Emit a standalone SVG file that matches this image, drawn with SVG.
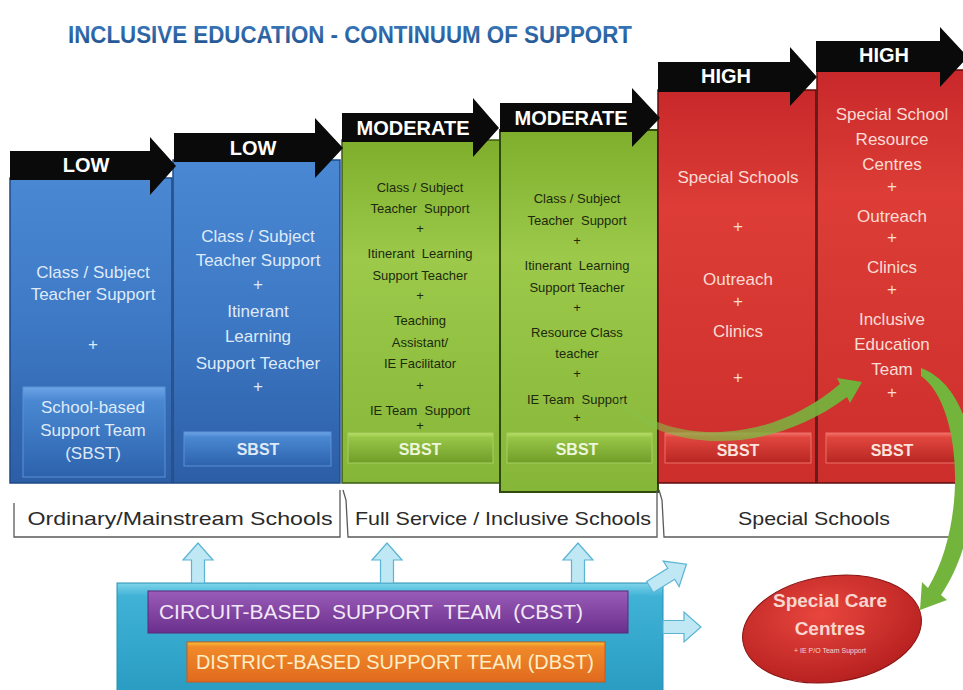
<svg xmlns="http://www.w3.org/2000/svg" width="963" height="690" viewBox="0 0 963 690">
<defs>
  <linearGradient id="gBlue" x1="0" y1="0" x2="0" y2="1">
    <stop offset="0" stop-color="#4a88d4"/><stop offset="0.5" stop-color="#3d78c4"/><stop offset="1" stop-color="#2c5ea6"/>
  </linearGradient>
  <linearGradient id="gGreen" x1="0" y1="0" x2="0" y2="1">
    <stop offset="0" stop-color="#7fae2c"/><stop offset="0.35" stop-color="#9cc94a"/><stop offset="1" stop-color="#86b638"/>
  </linearGradient>
  <linearGradient id="gRed" x1="0" y1="0" x2="0" y2="1">
    <stop offset="0" stop-color="#c8282a"/><stop offset="0.3" stop-color="#dd3d36"/><stop offset="1" stop-color="#cc2e2c"/>
  </linearGradient>
  <linearGradient id="bBlue" x1="0" y1="0" x2="0" y2="1">
    <stop offset="0" stop-color="#6ea4e6"/><stop offset="0.15" stop-color="#4a88d2"/><stop offset="1" stop-color="#2d62ac"/>
  </linearGradient>
  <linearGradient id="bGreen" x1="0" y1="0" x2="0" y2="1">
    <stop offset="0" stop-color="#b9e06a"/><stop offset="0.15" stop-color="#98c648"/><stop offset="1" stop-color="#6f9d28"/>
  </linearGradient>
  <linearGradient id="bRed" x1="0" y1="0" x2="0" y2="1">
    <stop offset="0" stop-color="#f07068"/><stop offset="0.15" stop-color="#e0463e"/><stop offset="1" stop-color="#b82622"/>
  </linearGradient>
  <linearGradient id="gTeal" x1="0" y1="0" x2="0" y2="1">
    <stop offset="0" stop-color="#7fd4ea"/><stop offset="0.12" stop-color="#3fb2d6"/><stop offset="1" stop-color="#2a9cc2"/>
  </linearGradient>
  <linearGradient id="gPurple" x1="0" y1="0" x2="0" y2="1">
    <stop offset="0" stop-color="#9a5cb8"/><stop offset="1" stop-color="#6a2f8c"/>
  </linearGradient>
  <linearGradient id="gOrange" x1="0" y1="0" x2="0" y2="1">
    <stop offset="0" stop-color="#f6c23a"/><stop offset="0.12" stop-color="#f08a2a"/><stop offset="1" stop-color="#e06a1e"/>
  </linearGradient>
  <radialGradient id="gEll" cx="0.45" cy="0.35" r="0.7">
    <stop offset="0" stop-color="#e8463e"/><stop offset="1" stop-color="#b31e1e"/>
  </radialGradient>
  <linearGradient id="gTitle" x1="0" y1="0" x2="0" y2="1">
    <stop offset="0" stop-color="#3b7cc0"/><stop offset="1" stop-color="#1f4f8a"/>
  </linearGradient>
  <linearGradient id="gArrowGreen" x1="0" y1="0" x2="1" y2="0">
    <stop offset="0" stop-color="#8cc04a" stop-opacity="0.5"/><stop offset="1" stop-color="#6fb23a"/>
  </linearGradient>
</defs>
<style>
  .t { font-family: "Liberation Sans", Arial, sans-serif; text-anchor: middle; white-space: pre; }
  .lvl { font-family: "Liberation Sans", Arial, sans-serif; font-weight: bold; font-size: 20px; fill: #ffffff; text-anchor: middle; }
  .wb { fill: #dfeaf8; font-size: 17px; }
  .dg { fill: #1c2a0e; font-size: 13px; }
  .pk { fill: #f9dcd4; font-size: 17px; }
  .sb { font-weight: bold; font-size: 16px; }
  .arr { fill: #0a0a0a; }
  .lb { fill: #bfe7f4; stroke: #5ab4d4; stroke-width: 1.2; }
  .brk { fill: none; stroke: #5a5a5a; stroke-width: 1.3; }
  .bl { font-family: "Liberation Sans", Arial, sans-serif; font-size: 19px; fill: #2a2a2a; text-anchor: middle; }
</style>
<rect width="963" height="690" fill="#ffffff"/>

<text x="68" y="43" font-family="Liberation Sans, Arial, sans-serif" font-weight="bold" font-size="23" fill="url(#gTitle)" textLength="564" lengthAdjust="spacingAndGlyphs">INCLUSIVE EDUCATION - CONTINUUM OF SUPPORT</text>

<!-- Column 1 -->
<g id="col1">
  <rect x="10" y="178" width="162" height="305" fill="url(#gBlue)" stroke="#1f4a88" stroke-width="1.5"/>
  <text class="t wb" x="93" y="278">Class / Subject</text>
  <text class="t wb" x="93" y="300">Teacher Support</text>
  <text class="t wb" x="93" y="350">+</text>
  <rect x="23" y="387" width="142" height="90" fill="url(#bBlue)" stroke="#5b92d6" stroke-width="1"/>
  <text class="t wb" x="93" y="413">School-based</text>
  <text class="t wb" x="93" y="436">Support Team</text>
  <text class="t wb" x="93" y="459">(SBST)</text>
</g>
<!-- Column 2 -->
<g id="col2">
  <rect x="173" y="160" width="167" height="323" fill="url(#gBlue)" stroke="#1f4a88" stroke-width="1.5"/>
  <text class="t wb" x="258" y="242">Class / Subject</text>
  <text class="t wb" x="258" y="266">Teacher Support</text>
  <text class="t wb" x="258" y="290">+</text>
  <text class="t wb" x="258" y="317">Itinerant</text>
  <text class="t wb" x="258" y="342">Learning</text>
  <text class="t wb" x="258" y="369">Support Teacher</text>
  <text class="t wb" x="258" y="392">+</text>
  <rect x="184" y="432" width="147" height="34" fill="url(#bBlue)" stroke="#5b92d6" stroke-width="1"/>
  <text class="t wb sb" x="258" y="455">SBST</text>
</g>
<!-- Column 3 -->
<g id="col3">
  <rect x="342" y="140" width="158" height="343" fill="url(#gGreen)" stroke="#3b5a12" stroke-width="1.5"/>
  <text class="t dg" x="420" y="192">Class / Subject</text>
  <text class="t dg" x="420" y="213">Teacher  Support</text>
  <text class="t dg" x="420" y="233">+</text>
  <text class="t dg" x="420" y="258">Itinerant  Learning</text>
  <text class="t dg" x="420" y="280">Support Teacher</text>
  <text class="t dg" x="420" y="300">+</text>
  <text class="t dg" x="420" y="325">Teaching</text>
  <text class="t dg" x="420" y="347">Assistant/</text>
  <text class="t dg" x="420" y="368">IE Facilitator</text>
  <text class="t dg" x="420" y="390">+</text>
  <text class="t dg" x="420" y="415">IE Team  Support</text>
  <text class="t dg" x="420" y="430">+</text>
  <rect x="348" y="433" width="145" height="30" fill="url(#bGreen)" stroke="#a8d060" stroke-width="1"/>
  <text class="t sb" x="420" y="455" fill="#eef6dc">SBST</text>
</g>
<!-- Column 4 -->
<g id="col4">
  <rect x="500" y="130" width="158" height="362" fill="url(#gGreen)" stroke="#2f4a0c" stroke-width="2"/>
  <text class="t dg" x="577" y="203">Class / Subject</text>
  <text class="t dg" x="577" y="225">Teacher  Support</text>
  <text class="t dg" x="577" y="245">+</text>
  <text class="t dg" x="577" y="270">Itinerant  Learning</text>
  <text class="t dg" x="577" y="292">Support Teacher</text>
  <text class="t dg" x="577" y="312">+</text>
  <text class="t dg" x="577" y="337">Resource Class</text>
  <text class="t dg" x="577" y="358">teacher</text>
  <text class="t dg" x="577" y="378">+</text>
  <text class="t dg" x="577" y="404">IE Team  Support</text>
  <text class="t dg" x="577" y="422">+</text>
  <rect x="507" y="433" width="145" height="30" fill="url(#bGreen)" stroke="#a8d060" stroke-width="1"/>
  <text class="t sb" x="577" y="455" fill="#eef6dc">SBST</text>
</g>
<!-- Column 5 -->
<g id="col5">
  <rect x="658" y="90" width="158" height="393" fill="url(#gRed)" stroke="#5a0e0e" stroke-width="1.5"/>
  <text class="t pk" x="738" y="183">Special Schools</text>
  <text class="t pk" x="738" y="232">+</text>
  <text class="t pk" x="738" y="285">Outreach</text>
  <text class="t pk" x="738" y="307">+</text>
  <text class="t pk" x="738" y="337">Clinics</text>
  <text class="t pk" x="738" y="383">+</text>
  <rect x="665" y="433" width="146" height="30" fill="url(#bRed)" stroke="#f07068" stroke-width="1"/>
  <text class="t sb" x="738" y="456" fill="#fbe4de">SBST</text>
</g>
<!-- Column 6 -->
<g id="col6">
  <rect x="817" y="70" width="150" height="413" fill="url(#gRed)" stroke="#5a0e0e" stroke-width="1.5"/>
  <text class="t pk" x="892" y="120">Special School</text>
  <text class="t pk" x="892" y="145">Resource</text>
  <text class="t pk" x="892" y="170">Centres</text>
  <text class="t pk" x="892" y="192">+</text>
  <text class="t pk" x="892" y="222">Outreach</text>
  <text class="t pk" x="892" y="243">+</text>
  <text class="t pk" x="892" y="273">Clinics</text>
  <text class="t pk" x="892" y="295">+</text>
  <text class="t pk" x="892" y="325">Inclusive</text>
  <text class="t pk" x="892" y="350">Education</text>
  <text class="t pk" x="892" y="375">Team</text>
  <text class="t pk" x="892" y="398">+</text>
  <rect x="826" y="433" width="131" height="30" fill="url(#bRed)" stroke="#f07068" stroke-width="1"/>
  <text class="t sb" x="892" y="456" fill="#fbe4de">SBST</text>
</g>

<!-- Level arrows -->
<g id="levels">
  <polygon class="arr" points="10,151 150,151 150,137 176,166 150,195 150,180 10,180"/>
  <text class="lvl" x="86" y="172">LOW</text>
  <polygon class="arr" points="174,133 315,133 315,118 343,148 315,178 315,162 174,162"/>
  <text class="lvl" x="253" y="155">LOW</text>
  <polygon class="arr" points="342,113 473,113 473,98 499,128 473,157 473,142 342,142"/>
  <text class="lvl" x="413" y="135">MODERATE</text>
  <polygon class="arr" points="500,103 632,103 632,88 660,118 632,147 632,132 500,132"/>
  <text class="lvl" x="571" y="125">MODERATE</text>
  <polygon class="arr" points="658,62 790,62 790,47 817,77 790,106 790,92 658,92"/>
  <text class="lvl" x="726" y="83">HIGH</text>
  <polygon class="arr" points="816,41 940,41 940,27 968,57 940,87 940,72 816,72"/>
  <text class="lvl" x="884" y="62">HIGH</text>
</g>

<!-- School type brackets -->
<g id="brackets">
  <path class="brk" d="M14,503 L14,537 L340,537 L340,490"/>
  <text class="bl" x="180" y="525" textLength="305" lengthAdjust="spacingAndGlyphs">Ordinary/Mainstream Schools</text>
  <path class="brk" d="M343,490 L346,500 L348,537 L657,537 L657,490"/>
  <text class="bl" x="503" y="525" textLength="296" lengthAdjust="spacingAndGlyphs">Full Service / Inclusive Schools</text>
  <path class="brk" d="M659,490 L662,500 L664,537 L963,537"/>
  <text class="bl" x="814" y="525" textLength="152" lengthAdjust="spacingAndGlyphs">Special Schools</text>
</g>

<!-- Support teams -->
<g id="teams">
  <rect x="117" y="583" width="546" height="110" fill="url(#gTeal)" stroke="#2b8fb2" stroke-width="1"/>
  <rect x="148" y="591" width="480" height="42" fill="url(#gPurple)" stroke="#5a2a7a" stroke-width="1"/>
  <text x="371" y="619" font-family="Liberation Sans, Arial, sans-serif" font-size="20" fill="#f2e8f8" text-anchor="middle" style="white-space:pre" textLength="424" lengthAdjust="spacingAndGlyphs">CIRCUIT-BASED  SUPPORT  TEAM  (CBST)</text>
  <rect x="187" y="642" width="418" height="40" fill="url(#gOrange)" stroke="#c85a18" stroke-width="1"/>
  <text x="395" y="669" font-family="Liberation Sans, Arial, sans-serif" font-size="20" fill="#fdeec8" text-anchor="middle" textLength="398" lengthAdjust="spacingAndGlyphs">DISTRICT-BASED SUPPORT TEAM (DBST)</text>
</g>

<!-- Special Care Centres -->
<g id="scc">
  <ellipse cx="832" cy="629" rx="90" ry="53" transform="rotate(-8 832 629)" fill="url(#gEll)" stroke="#8a1414" stroke-width="1"/>
  <text class="t" x="830" y="607" font-size="19" font-weight="bold" fill="#f7d6cf">Special Care</text>
  <text class="t" x="830" y="635" font-size="19" font-weight="bold" fill="#f7d6cf">Centres</text>
  <text class="t" x="830" y="653" font-size="7" fill="#f7d6cf">+ IE P/O Team Support</text>
</g>

<!-- Connectors -->
<g id="connectors">
  <polygon class="lb" points="191.5,583 191.5,560 183,560 198,543 213,560 204.5,560 204.5,583"/>
  <polygon class="lb" points="380.5,583 380.5,560 372,560 387,543 402,560 393.5,560 393.5,583"/>
  <polygon class="lb" points="571.5,583 571.5,560 563,560 578,543 593,560 584.5,560 584.5,583"/>
  <polygon class="lb" transform="translate(650,587) rotate(-32)" points="0,-6.5 25,-6.5 25,-15 43,0 25,15 25,6.5 0,6.5"/>
  <polygon class="lb" points="663,620.5 684,620.5 684,612 701,627 684,642 684,633.5 663,633.5"/>
  <!-- green curved arrow from IE Team Support to Inclusive Education Team -->
  <path d="M618,397 C660,440 760,452 840,384 L837,378 L862,382 L850,403 L847,397 C760,462 655,448 618,401 Z" fill="url(#gArrowGreen)"/>
  <!-- green curved arrow from Team to Special Care Centres -->
  <path d="M921,368 C985,392 990,522 941,595 L947,600 L920,610 L922,582 L928,588 C968,522 962,405 921,376 Z" fill="#72b43c"/>
</g>
</svg>
